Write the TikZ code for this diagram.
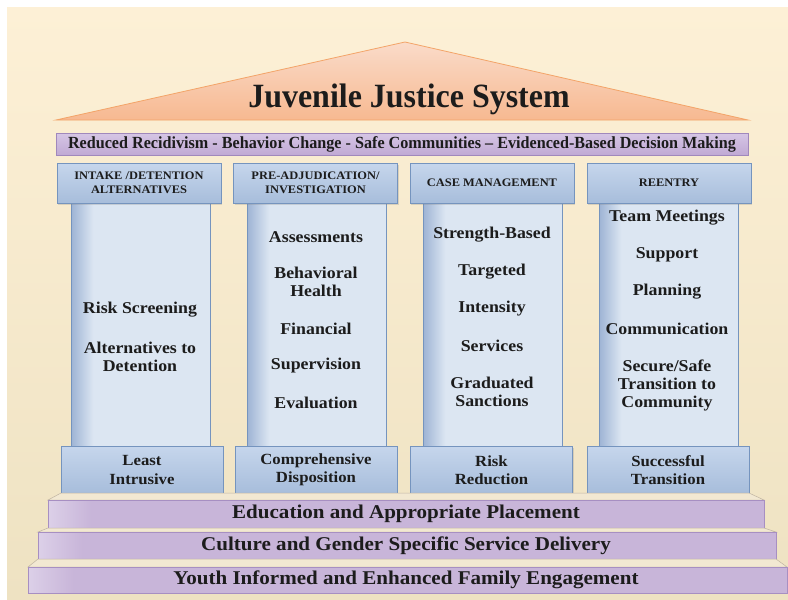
\documentclass[tikz,border=0pt]{standalone}
\usepackage{fontspec}
\setmainfont{Liberation Serif}[Ligatures=TeX]
\newfontfamily\titlefont{Liberation Serif}[FakeStretch=0.94]
\newfontfamily\bannerfont{Liberation Serif}[FakeStretch=0.95]
\newfontfamily\widefont{Liberation Serif}[FakeStretch=1.08]
\usetikzlibrary{shadows}

\definecolor{bgtop}{HTML}{FDF0D6}
\definecolor{bgbot}{HTML}{EEE2C2}
\definecolor{rooftop}{HTML}{FADBC9}
\definecolor{roofbot}{HTML}{F7B991}
\definecolor{roofline}{HTML}{F3A468}
\definecolor{bantop}{HTML}{D6C6E5}
\definecolor{banbot}{HTML}{C0A9D4}
\definecolor{banline}{HTML}{A088BC}
\definecolor{captop}{HTML}{C6D6EC}
\definecolor{capbot}{HTML}{A7BDDB}
\definecolor{capline}{HTML}{7594BE}
\definecolor{shaftdark}{HTML}{9DB3D4}
\definecolor{shaftlight}{HTML}{DCE6F2}
\definecolor{steplight}{HTML}{DCD0E8}
\definecolor{stepmain}{HTML}{C8B5D9}
\definecolor{stepline}{HTML}{A78FC2}
\definecolor{treadfill}{HTML}{F2E8D2}
\definecolor{treadline}{HTML}{BFB4A2}
\definecolor{ink}{HTML}{1C1C1C}

% darker rim on the left of each column shaft
\pgfdeclarehorizontalshading{shaftshade}{100bp}{color(0bp)=(shaftdark); color(25bp)=(shaftdark); color(33bp)=(shaftlight); color(100bp)=(shaftlight)}
% lighter left end on each step
\pgfdeclarehorizontalshading{stepshade}{100bp}{color(0bp)=(steplight); color(25bp)=(steplight); color(28bp)=(stepmain); color(100bp)=(stepmain)}

\tikzset{
  roof/.style={top color=rooftop, bottom color=roofbot, draw=roofline, line width=0.8pt},
  banner/.style={top color=bantop, bottom color=banbot, draw=banline, line width=0.7pt},
  block/.style={top color=captop, bottom color=capbot, draw=capline, line width=0.7pt,
    drop shadow={shadow xshift=1pt, shadow yshift=-1.5pt, opacity=0.25}},
  shaft/.style={shading=shaftshade, draw=capline, line width=0.6pt},
  stepbar/.style={shading=stepshade, draw=stepline, line width=0.7pt},
  tread/.style={fill=treadfill, draw=treadline, line width=0.5pt},
  capfont/.style={font=\widefont\fontsize{11.5}{14}\selectfont\bfseries, text=ink, align=center},
  item/.style={font=\widefont\fontsize{16.5}{18}\selectfont\bfseries, text=ink, align=center, inner sep=0pt},
  basefont/.style={font=\widefont\fontsize{15.5}{18.5}\selectfont\bfseries, text=ink, align=center},
  stepfont/.style={font=\widefont\fontsize{19.5}{22}\selectfont\bfseries, text=ink, inner sep=0pt},
}

\begin{document}
\begin{tikzpicture}[x=1pt,y=-1pt]
\useasboundingbox (0,0) rectangle (788,600);

% backdrop
\fill[top color=bgtop, bottom color=bgbot] (7,7) rectangle (788,600);

% roof and title
\path[roof] (56,120) -- (405,42) -- (748,120) -- cycle;
\node[font=\titlefont\fontsize{34}{36}\selectfont\bfseries, text=ink] (title) at (409,99) {Juvenile Justice System};

% entablature
\path[banner] (56,133) rectangle (748,155);
\node[font=\bannerfont\fontsize{17}{18}\selectfont\bfseries, text=ink] (goals) at (402,144)
  {Reduced Recidivism - Behavior Change - Safe Communities – Evidenced-Based Decision Making};

% column shafts
\foreach \cx/\n in {140/1,316/2,492/3,668/4}{
  \path[shaft] (\cx-69,203) rectangle (\cx+70,446);
}
% capitals and bases
\foreach \cx/\n in {139/1,315.5/2,492/3,669/4}{
  \path[block] (\cx-82,163) rectangle (\cx+82,203);
}
\foreach \cx/\n in {142/1,316/2,491.5/3,668/4}{
  \path[block] (\cx-81,446) rectangle (\cx+81,493);
}

% capital labels
\node[capfont] (cap1) at (139,183) {INTAKE /DETENTION\\ALTERNATIVES};
\node[capfont] (cap2) at (315.5,183) {PRE-ADJUDICATION/\\INVESTIGATION};
\node[capfont] (cap3) at (492,183) {CASE MANAGEMENT};
\node[capfont] (cap4) at (669,183) {REENTRY};

% column 1
\node[item] (a1) at (140,310) {Risk Screening};
\node[item] (a2) at (140,357) {Alternatives to\\Detention};
% column 2
\node[item] (b1) at (316,237) {Assessments};
\node[item] (b2) at (316,282) {Behavioral\\Health};
\node[item] (b3) at (316,329) {Financial};
\node[item] (b4) at (316,366) {Supervision};
\node[item] (b5) at (316,403) {Evaluation};
% column 3
\node[item] (c1) at (492,235) {Strength-Based};
\node[item] (c2) at (492,272) {Targeted};
\node[item] (c3) at (492,309) {Intensity};
\node[item] (c4) at (492,346) {Services};
\node[item] (c5) at (492,392) {Graduated\\Sanctions};
% column 4
\node[item] (d1) at (667,218) {Team Meetings};
\node[item] (d2) at (667,255) {Support};
\node[item] (d3) at (667,292) {Planning};
\node[item] (d4) at (667,329) {Communication};
\node[item] (d5) at (667,385) {Secure/Safe\\Transition to\\Community};

% base labels
\node[basefont] (base1) at (142,470) {Least\\Intrusive};
\node[basefont] (base2) at (316,470) {Comprehensive\\Disposition};
\node[basefont] (base3) at (491.5,470) {Risk\\Reduction};
\node[basefont] (base4) at (668,470) {Successful\\Transition};

% stepped foundation
\path[tread] (61,493) -- (749,493) -- (764,500) -- (48,500) -- cycle;
\path[stepbar] (48,500) rectangle (764,528);
\path[tread] (48,528) -- (764,528) -- (776,532) -- (38,532) -- cycle;
\path[stepbar] (38,532) rectangle (776,559);
\path[tread] (38,559) -- (776,559) -- (787,567) -- (28,567) -- cycle;
\path[stepbar] (28,567) rectangle (787,593);

\node[stepfont] (step1) at (406,514) {Education and Appropriate Placement};
\node[stepfont] (step2) at (406,546) {Culture and Gender Specific Service Delivery};
\node[stepfont] (step3) at (406,580) {Youth Informed and Enhanced Family Engagement};
\end{tikzpicture}
\end{document}
